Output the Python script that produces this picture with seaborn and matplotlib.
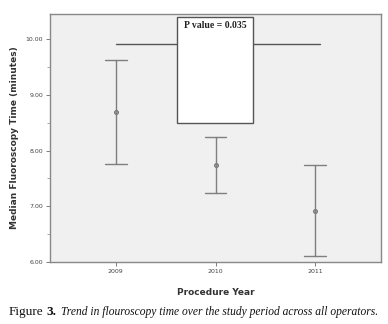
import matplotlib
matplotlib.use("Agg")
import matplotlib.pyplot as plt
import seaborn as sns
import pandas as pd
from matplotlib.ticker import MultipleLocator, FormatStrFormatter

years = ["2009", "2010", "2011"]
median_time = [8.69, 7.74, 6.92]
lower_ci = [7.76, 7.23, 6.10]
upper_ci = [9.63, 8.24, 7.74]
p_text = "P value = 0.035"
bracket_y = 9.92

rows = []
for y, lo, m, hi in zip(years, lower_ci, median_time, upper_ci):
    for v in (lo, m, hi):
        rows.append({"Procedure Year": y, "Time": v})
df = pd.DataFrame(rows)

sns.set_style("white")
plt.rcParams["font.family"] = ["DejaVu Sans"]

fig = plt.figure(figsize=(3.88, 3.24), dpi=100)
ax = fig.add_axes([50/388, 1-262/324, 331/388, 248/324])
ax.set_facecolor("#f0f0f0")

grey = "#7f7f7f"
sns.pointplot(data=df, x="Procedure Year", y="Time", order=years,
              estimator="median", errorbar=("pi", 100), capsize=0.22,
              linestyle="none", color=grey, markers="o",
              markersize=2.8, err_kws={"linewidth": 1.0, "color": grey},
              ax=ax)
for line in ax.lines:
    line.set_markerfacecolor("#a8a8a8")
    line.set_markeredgecolor("#6f6f6f")
    line.set_markeredgewidth(0.7)
for coll in ax.collections:
    coll.set_facecolor("#a8a8a8")
    coll.set_edgecolor("#6f6f6f")
    coll.set_linewidth(0.7)

# bracket line and p-value box
ax.plot([0, 2.05], [bracket_y, bracket_y], color="#555555", lw=1.0, zorder=1)
ax.add_patch(plt.Rectangle((0.615, 8.49), 0.76, 1.90, facecolor="white",
                           edgecolor="#555555", lw=1.0, zorder=3))
ax.text(0.995, 10.33, p_text, ha="center", va="top", fontsize=7,
        fontweight="bold", family="Liberation Serif", color="#222222", zorder=4)

ax.set_xlim(-0.66, 2.66)
ax.set_ylim(6.0, 10.45)
ax.yaxis.set_major_locator(MultipleLocator(1.0))
ax.yaxis.set_minor_locator(MultipleLocator(0.5))
ax.yaxis.set_major_formatter(FormatStrFormatter("%.2f"))
ax.tick_params(axis="both", which="major", labelsize=4.5, labelcolor="#444444",
               length=3, width=0.6, color="#666666", direction="out",
               left=True, bottom=True, pad=2)
ax.tick_params(axis="y", which="minor", length=2, width=0.5, color="#888888",
               left=True)
for s in ax.spines.values():
    s.set_color("#888888")
    s.set_linewidth(1.0)

ax.set_xlabel("Procedure Year", fontsize=6.5, fontweight="bold",
              color="#333333", labelpad=10)
ax.set_ylabel("Median Fluoroscopy Time (minutes)", fontsize=6.5,
              fontweight="bold", color="#333333", labelpad=5)

cap_y = 1 - 312/324
fig.text(9/388, cap_y, "Figure", fontsize=9.5, family="Liberation Serif",
         color="#111111", va="center", ha="left")
fig.text(46/388, cap_y, "3.", fontsize=9.5, family="Liberation Serif",
         fontweight="bold", color="#111111", va="center", ha="left")
fig.text(61/388, cap_y,
         "Trend in flouroscopy time over the study period across all operators.",
         fontsize=8.3, family="Liberation Serif", style="italic",
         color="#111111", va="center", ha="left")

fig.savefig("out.png", dpi=100, facecolor="white")
